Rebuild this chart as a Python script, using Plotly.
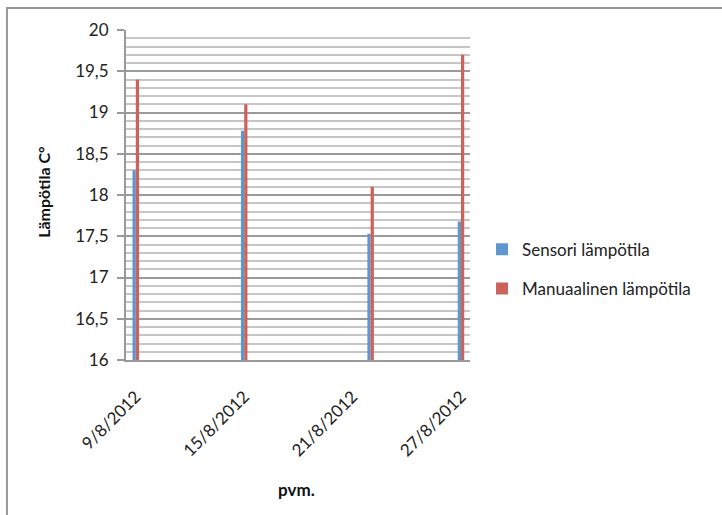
import plotly.graph_objects as go

# Measurement dates and temperatures (°C)
dates = ["2012-08-09", "2012-08-15", "2012-08-22", "2012-08-27"]
sensor_temp = [18.30, 18.78, 17.53, 17.68]
manual_temp = [19.40, 19.10, 18.10, 19.70]

# Axis labelling
tick_dates = ["2012-08-09", "2012-08-15", "2012-08-21", "2012-08-27"]
tick_text = ["9/8/2012", "15/8/2012", "21/8/2012", "27/8/2012"]
series_names = ["Sensori lämpötila", "Manuaalinen lämpötila"]

DAY_MS = 86400000
bar_w = 0.18 * DAY_MS
FONT = "Lato, 'Open Sans', sans-serif"

# minor grid every 0.1 °C between the labelled 0.5 °C lines
minor_vals = [round(16 + i * 0.1, 1) for i in range(41) if i % 5]

fig = go.Figure()
fig.add_trace(go.Bar(
    x=dates, y=sensor_temp, name=series_names[0], legendgroup="a",
    marker=dict(color="#6096CE", line=dict(width=0)),
    width=bar_w, offset=-bar_w,
))
fig.add_trace(go.Bar(
    x=dates, y=manual_temp, name=series_names[1], legendgroup="b",
    marker=dict(color="#CC625C", line=dict(width=0)),
    width=bar_w, offset=0,
))

fig.update_layout(
    width=722, height=515,
    margin=dict(l=126, r=252, t=30, b=155),
    paper_bgcolor="white", plot_bgcolor="white",
    barmode="overlay",
    separators=", ",
    font=dict(family=FONT, size=17, color="#222222"),
    showlegend=True,
    legend=dict(
        x=1.035, y=0.275, xanchor="left", yanchor="middle",
        font=dict(size=17, color="#222222"),
        tracegroupgap=14, itemwidth=30,
        bgcolor="rgba(0,0,0,0)",
    ),
    xaxis=dict(
        type="date",
        range=["2012-08-08 11:00", "2012-08-27 12:00"],
        tickvals=tick_dates, ticktext=tick_text,
        tickangle=-45, showgrid=False,
        showline=True, linecolor="#999999", linewidth=2,
        ticks="", zeroline=False, ticklabelstandoff=18,
        tickfont=dict(size=17, color="#222222"),
    ),
    yaxis=dict(
        range=[16, 20], dtick=0.5, tick0=16,
        showgrid=True, gridcolor="#9a9a9a", gridwidth=2,
        minor=dict(tickmode="array", tickvals=minor_vals, showgrid=True,
                   gridcolor="#c6c6c6", gridwidth=2, ticks=""),
        showline=True, linecolor="#999999", linewidth=2,
        ticks="outside", ticklen=7, tickcolor="#999999", tickwidth=2,
        zeroline=False, ticklabelstandoff=5,
        tickfont=dict(size=17, color="#222222"),
    ),
    annotations=[
        dict(text="<b>Lämpötila C°</b>", xref="paper", yref="paper",
             x=-0.238, y=0.51, xanchor="center", yanchor="middle",
             textangle=-90, showarrow=False,
             font=dict(size=16, color="#111111")),
        dict(text="<b>pvm.</b>", xref="paper", yref="paper",
             x=0.497, y=-0.391, xanchor="center", yanchor="middle",
             showarrow=False,
             font=dict(size=17, color="#111111")),
    ],
    shapes=[
        dict(type="rect", xref="paper", yref="paper",
             x0=-0.346, y0=1.0667, x1=2.0, y1=-0.7,
             line=dict(color="#999999", width=2), fillcolor="rgba(0,0,0,0)",
             layer="below"),
    ],
)

fig.write_html("out.html")
